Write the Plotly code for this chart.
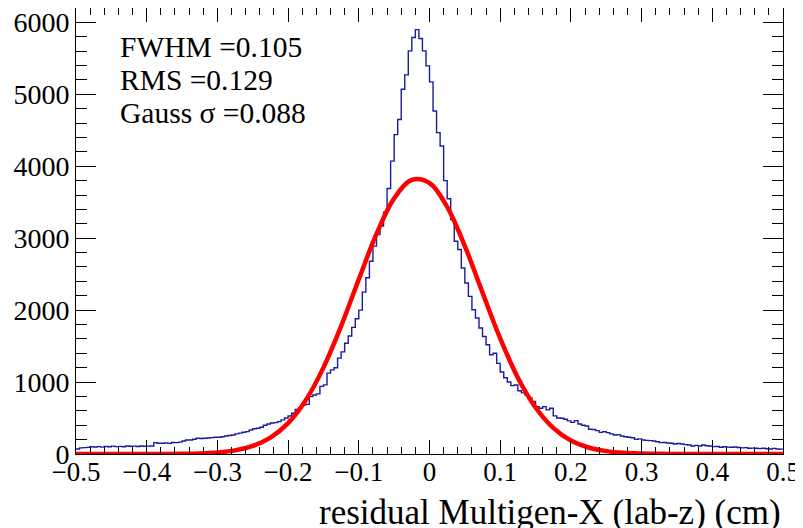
import numpy as np
import plotly.graph_objects as go

# Histogram: 200 bins of width 0.005 over [-0.5, 0.5]
x_min, x_max, n_bins = -0.5, 0.5, 200
counts = [
    70, 85, 88, 92, 100, 98, 102, 96, 104, 100,
    110, 102, 106, 100, 112, 108, 110, 104, 112, 108,
    110, 112, 158, 150, 149, 152, 148, 160, 158, 165,
    180, 195, 195, 205, 218, 215, 218, 222, 228, 232,
    232, 240, 250, 258, 265, 280, 290, 302, 311, 334,
    350, 357, 371, 400, 418, 430, 436, 450, 474, 500,
    529, 567, 620, 636, 682, 690, 798, 820, 836, 940,
    961, 1124, 1170, 1200, 1333, 1420, 1540, 1640, 1760, 1880,
    2000, 2250, 2450, 2680, 2890, 3050, 3170, 3360, 3690, 4072,
    4440, 4650, 5071, 5270, 5604, 5790, 5900, 5776, 5604, 5396,
    5173, 4769, 4468, 4281, 3800, 3548, 3260, 2958, 2842, 2586,
    2378, 2191, 2006, 1890, 1751, 1634, 1518, 1379, 1400, 1260,
    1140, 1060, 1000, 950, 960, 880, 850, 820, 776, 729,
    659, 636, 659, 613, 636, 530, 500, 497, 483, 460,
    440, 464, 418, 400, 390, 344, 340, 325, 300, 311,
    297, 280, 265, 270, 251, 240, 232, 225, 204, 210,
    195, 190, 186, 180, 170, 158, 160, 153, 150, 139,
    145, 139, 130, 125, 111, 120, 111, 125, 115, 111,
    102, 104, 93, 100, 95, 93, 98, 90, 85, 88,
    79, 82, 79, 75, 80, 72, 70, 78, 70, 68,
]

# Gaussian fit curve (step 0.025)
fit_x = [-0.5, -0.475, -0.45, -0.425, -0.4, -0.375, -0.35, -0.325, -0.3, -0.275,
         -0.25, -0.225, -0.2, -0.175, -0.15, -0.125, -0.1, -0.075, -0.05, -0.025,
         0.0, 0.025, 0.05, 0.075, 0.1, 0.125, 0.15, 0.175, 0.2, 0.225,
         0.25, 0.275, 0.3, 0.325, 0.35, 0.375, 0.4, 0.425, 0.45, 0.475, 0.5]
fit_y = [0, 0, 0, 0, 0.3, 1, 3, 8, 21, 50,
         112, 228, 430, 748, 1201, 1778, 2428, 3059, 3554, 3810,
         3767, 3436, 2891, 2244, 1606, 1061, 647, 364, 188, 90,
         40, 16, 6, 2, 0.7, 0.2, 0, 0, 0, 0, 0]

stat_lines = ["FWHM =0.105", "RMS =0.129", "Gauss σ =0.088"]
x_title = "residual Multigen-X (lab-z) (cm)"
x_ticks = [-0.5, -0.4, -0.3, -0.2, -0.1, 0, 0.1, 0.2, 0.3, 0.4, 0.5]
x_ticklabels = ["−0.5", "−0.4", "−0.3", "−0.2", "−0.1", "0", "0.1", "0.2", "0.3", "0.4", "0.5"]
y_ticks = [0, 1000, 2000, 3000, 4000, 5000, 6000]

edges = np.linspace(x_min, x_max, n_bins + 1)
hx = list(edges)
hy = list(counts) + [counts[-1]]

FONT = "Liberation Serif, Times New Roman, serif"

fig = go.Figure()
fig.add_trace(go.Scatter(x=hx, y=hy, mode="lines", line=dict(color="#1a1aa0", width=1.4, shape="hv"),
                         showlegend=False, hoverinfo="skip"))
fig.add_trace(go.Scatter(x=fit_x, y=fit_y, mode="lines",
                         line=dict(color="#ff0000", width=4.5, shape="spline", smoothing=1.0),
                         showlegend=False, hoverinfo="skip"))

axis_common = dict(showgrid=False, zeroline=False, showline=True, linecolor="black", linewidth=1,
                   mirror="ticks", ticks="inside", tickcolor="black", tickwidth=1,
                   ticklabeloverflow="allow")

fig.update_xaxes(range=[x_min, x_max], tickvals=x_ticks, ticktext=x_ticklabels, ticklen=14,
                 tickfont=dict(family=FONT, size=27, color="black"), ticklabelstandoff=-6,
                 minor=dict(dtick=0.02, ticklen=7, ticks="inside", tickcolor="black", tickwidth=1),
                 **axis_common)
fig.update_yaxes(range=[0, 6200], tickvals=y_ticks, ticklen=20,
                 tickfont=dict(family=FONT, size=28, color="black"),
                 minor=dict(dtick=200, ticklen=11, ticks="inside", tickcolor="black", tickwidth=1),
                 **axis_common)

ys = [0.9126, 0.8386, 0.7646]
for t, yy in zip(stat_lines, ys):
    fig.add_annotation(text=t, xref="paper", yref="paper", x=0.0594, y=yy, xanchor="left",
                       yanchor="middle", showarrow=False, font=dict(family=FONT, size=29.5, color="black"))

fig.add_annotation(text=x_title, xref="paper", yref="paper", x=1.0, y=-0.131, xanchor="right",
                   yanchor="middle", showarrow=False, font=dict(family=FONT, size=35, color="black"))

# page body has an 8px margin, so the plot area is placed at window x 76-783, y 8-454
fig.update_layout(width=803, height=528, margin=dict(l=68, r=28, t=0, b=82),
                  paper_bgcolor="white", plot_bgcolor="white")

fig.write_html("out.html")
